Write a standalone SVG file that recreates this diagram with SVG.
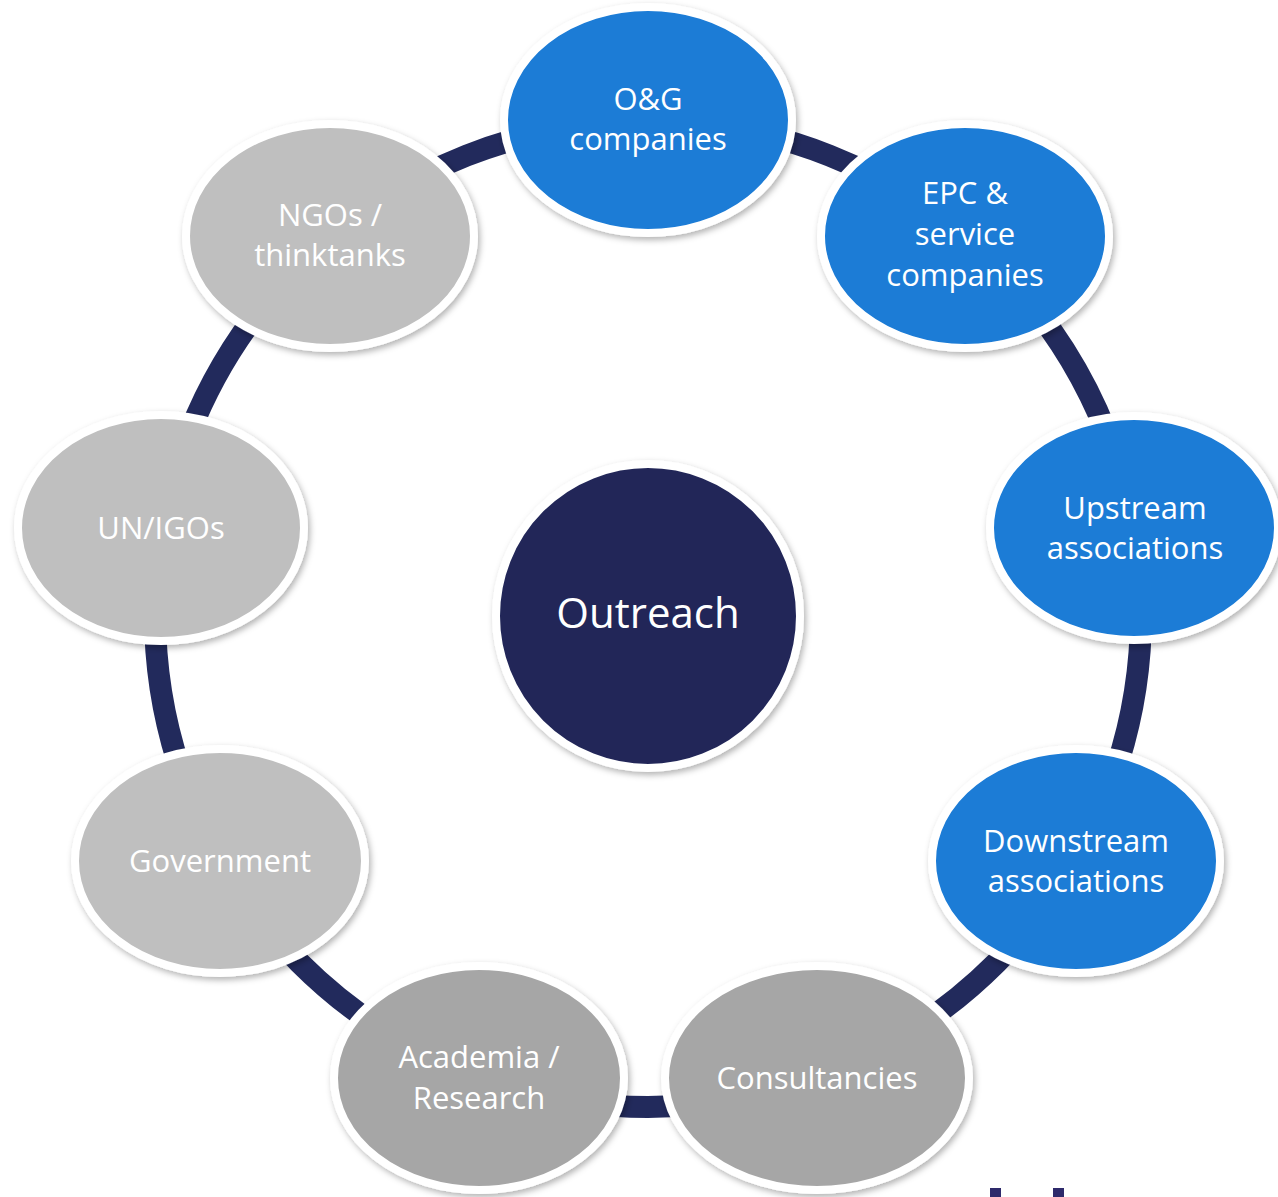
<svg xmlns="http://www.w3.org/2000/svg" width="1278" height="1197" viewBox="0 0 1278 1197">
<defs>
<filter id="sh" x="-20%" y="-20%" width="140%" height="140%">
<feDropShadow dx="2" dy="3" stdDeviation="3" flood-color="#000" flood-opacity="0.3"/>
</filter>
<style>
.n{stroke:#fff;stroke-width:8;filter:url(#sh)}
.blue{fill:#1A7BD6}
.lg{fill:#BFBFBF}
.dg{fill:#A6A6A6}
.t{font-family:"Open Sans","Noto Sans",sans-serif;font-size:31px;fill:#fff;text-anchor:middle}
</style>
</defs>
<rect width="1278" height="1197" fill="#fff"/>
<g id="connectors">
<circle cx="648" cy="614" r="493" fill="none" stroke="#222A5C" stroke-width="22"/>
</g>
<g id="center">
<circle cx="648" cy="616" r="152" fill="#222759" class="n"/>
<text class="t" x="648" y="628" style="font-size:42px">Outreach</text>
</g>
<g id="og">
<ellipse cx="648" cy="120" rx="144" ry="113" class="n blue"/>
<text class="t" x="648" y="110">O&amp;G</text>
<text class="t" x="648" y="150">companies</text>
</g>
<g id="epc">
<ellipse cx="965" cy="236" rx="144" ry="112" class="n blue"/>
<text class="t" x="965" y="204">EPC &amp;</text>
<text class="t" x="965" y="245">service</text>
<text class="t" x="965" y="286">companies</text>
</g>
<g id="upstream">
<ellipse cx="1134" cy="528" rx="144" ry="112" class="n blue"/>
<text class="t" x="1135" y="519">Upstream</text>
<text class="t" x="1135" y="559">associations</text>
</g>
<g id="downstream">
<ellipse cx="1076" cy="861" rx="144" ry="112" class="n blue"/>
<text class="t" x="1076" y="852">Downstream</text>
<text class="t" x="1076" y="892">associations</text>
</g>
<g id="consultancies">
<ellipse cx="817" cy="1078" rx="152" ry="112" class="n dg"/>
<text class="t" x="817" y="1089">Consultancies</text>
</g>
<g id="academia">
<ellipse cx="479" cy="1078" rx="145" ry="112" class="n dg"/>
<text class="t" x="479" y="1068">Academia /</text>
<text class="t" x="479" y="1109">Research</text>
</g>
<g id="government">
<ellipse cx="220" cy="861" rx="145" ry="112" class="n lg"/>
<text class="t" x="220" y="872">Government</text>
</g>
<g id="unigos">
<ellipse cx="161" cy="528" rx="143" ry="113" class="n lg"/>
<text class="t" x="161" y="539">UN/IGOs</text>
</g>
<g id="ngos">
<ellipse cx="330" cy="236" rx="144" ry="112" class="n lg"/>
<text class="t" x="330" y="226">NGOs /</text>
<text class="t" x="330" y="266">thinktanks</text>
</g>
<rect x="990" y="1188" width="11" height="9" fill="#2E2A6B"/>
<rect x="1053" y="1188" width="11" height="9" fill="#2E2A6B"/>
</svg>
